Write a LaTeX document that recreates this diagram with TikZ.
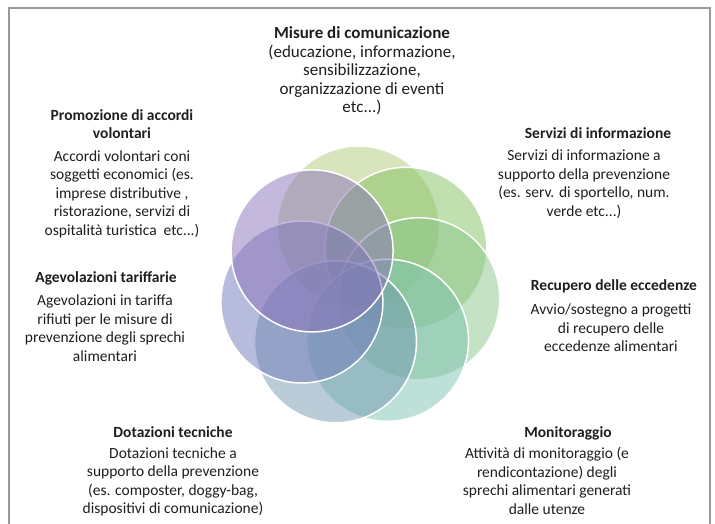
\documentclass[tikz,border=0pt]{standalone}
\usepackage{fontspec}
\setmainfont{Carlito}
\usepackage{tikz}
\usepackage{xcolor}
\definecolor{framegray}{RGB}{160,152,144}
\definecolor{textgray}{RGB}{30,30,30}
\definecolor{petal-a}{RGB}{177,201,121}
\definecolor{petal-b}{RGB}{129,193,97}
\definecolor{petal-c}{RGB}{139,197,139}
\definecolor{petal-d}{RGB}{123,193,177}
\definecolor{petal-e}{RGB}{115,153,177}
\definecolor{petal-f}{RGB}{113,121,185}
\definecolor{petal-g}{RGB}{137,113,185}
\tikzset{
    petal/.style = {fill opacity=0.5, draw=white, line width=1.5pt},
    item-title/.style = {text=textgray, font=\fontsize{15.5}{18.5}\selectfont\bfseries, align=center, inner sep=0pt},
    item-text/.style = {text=textgray, font=\fontsize{15.5}{18.5}\selectfont, align=center, inner sep=0pt},
}

\begin{document}
\begin{tikzpicture}[x=1pt, y=-1pt]
\useasboundingbox (0,0) rectangle (715,524);
\draw[framegray, line width=1.2pt] (9,524) -- (9,8) -- (710,8) -- (710,524);

% the seven petals, drawn clockwise from the top one
\foreach \col [count=\k from 0] in {petal-a,petal-b,petal-c,petal-d,petal-e,petal-f,petal-g} {
    \pgfmathsetmacro{\ang}{91.6-51.43*\k}
    \draw[petal, fill=\col] ({360+60*cos(\ang)},{287-60*sin(\ang)}) circle (81pt);
}

\node[item-text, font=\fontsize{17}{18.5}\selectfont] (misure) at (362,71) {\textbf{Misure di comunicazione}\\(educazione, informazione,\\sensibilizzazione,\\organizzazione di eventi\\etc...)};

\node[item-title] (promozione-title) at (122,124) {Promozione di accordi\\volontari};
\node[item-text] (promozione) at (122,194) {Accordi volontari coni\\soggetti economici (es.\\imprese distributive ,\\ristorazione, servizi di\\ospitalità turistica~ etc...)};

\node[item-title] (servizi-title) at (598,133) {Servizi di informazione};
\node[item-text] (servizi) at (584,184) {Servizi di informazione a\\supporto della prevenzione\\(es. serv. di sportello, num.\\verde etc...)};

\node[item-title] (agevolazioni-title) at (106,278) {Agevolazioni tariffarie};
\node[item-text] (agevolazioni) at (105,328) {Agevolazioni in tariffa\\rifiuti per le misure di\\prevenzione degli sprechi\\alimentari};

\node[item-title] (recupero-title) at (614,286) {Recupero delle eccedenze};
\node[item-text] (recupero) at (611,328) {Avvio/sostegno a progetti\\di recupero delle\\eccedenze alimentari};

\node[item-title] (dotazioni-title) at (173,432) {Dotazioni tecniche};
\node[item-text] (dotazioni) at (173,482) {Dotazioni tecniche a\\supporto della prevenzione\\(es. composter, doggy-bag,\\dispositivi di comunicazione)};

\node[item-title] (monitoraggio-title) at (568,433) {Monitoraggio};
\node[item-text] (monitoraggio) at (547,481) {Attività di monitoraggio (e\\rendicontazione) degli\\sprechi alimentari generati\\dalle utenze};
\end{tikzpicture}
\end{document}
